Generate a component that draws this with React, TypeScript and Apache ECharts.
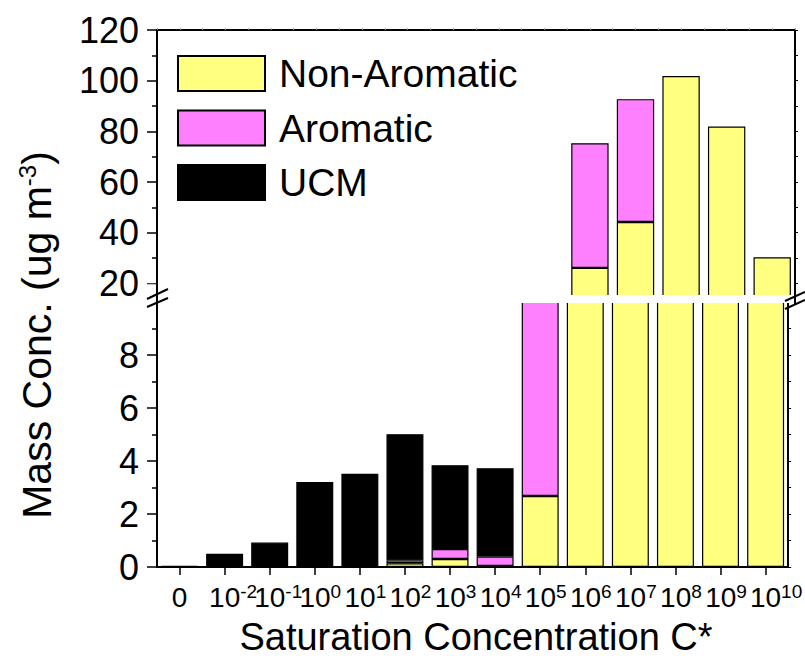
import React, { useEffect, useRef } from 'react';
import * as echarts from 'echarts';

const categories = ['0', '10^-2', '10^-1', '10^0', '10^1', '10^2', '10^3', '10^4', '10^5', '10^6', '10^7', '10^8', '10^9', '10^10'];
const nonAromatic = [0, 0, 0, 0, 0, 0.14, 0.3, 0.04, 2.68, 26.1, 44.2, 101.8, 81.9, 30.3];
const aromatic = [0.04, 0, 0, 0, 0, 0.11, 0.38, 0.35, 9.3, 49.2, 48.5, 0, 0, 0];
const ucm = [0, 0.5, 0.92, 3.21, 3.52, 4.76, 3.16, 3.34, 0, 0, 0, 0, 0, 0];

const seriesDefs = [
  { name: 'Non-Aromatic', data: nonAromatic, color: '#FFFF80' },
  { name: 'Aromatic', data: aromatic, color: '#FF80FF' },
  { name: 'UCM', data: ucm, color: '#000000' },
];

const FONT = '"Liberation Sans", Arial, sans-serif';

export default function App() {
  const ref = useRef<HTMLDivElement>(null);
  useEffect(() => {
    if (!ref.current) return;
    const chart = echarts.init(ref.current, undefined, { renderer: 'svg' });
    const toData = (arr: number[]) => arr.map((v) => (v === 0 ? '-' : v));
    const series: any[] = [];
    [0, 1].forEach((g) => {
      seriesDefs.forEach((d) => {
        series.push({
          type: 'bar',
          name: d.name,
          xAxisIndex: g,
          yAxisIndex: g,
          stack: 'stack' + g,
          data: toData(d.data),
          barCategoryGap: '18%',
          clip: true,
          itemStyle: { color: d.color, borderColor: '#000', borderWidth: 1.2 },
        });
      });
    });
    const axisLine = { show: true, lineStyle: { color: '#000', width: 2 } };
    const padStyle = (w: number) => ({ width: w, fontSize: 19, lineHeight: 14 });
    const option: any = {
      animation: false,
      textStyle: { fontFamily: FONT, color: '#000' },
      grid: [
        { left: 157, right: 10, top: 302, bottom: 91 },
        { left: 157, right: 10, top: 30, bottom: 362 },
      ],
      legend: {
        orient: 'vertical',
        left: 172,
        top: 49,
        itemWidth: 87,
        itemHeight: 35,
        itemGap: 15.5,
        icon: 'rect',
        selectedMode: false,
        textStyle: { fontSize: 39, lineHeight: 35, color: '#000', fontFamily: FONT, padding: [0, 0, 0, 9] },
        data: ['Non-Aromatic', 'Aromatic', 'UCM'],
      },
      xAxis: [
        {
          type: 'category',
          gridIndex: 0,
          position: 'bottom',
          data: categories,
          axisLine,
          axisTick: { show: true, alignWithLabel: true, length: 8, lineStyle: { color: '#000', width: 1.5 } },
          axisLabel: {
            interval: 0,
            margin: 15,
            color: '#000',
            fontFamily: FONT,
            formatter: (v: string) => {
              const i = v.indexOf('^');
              if (i < 0) return `{b|${v}}`;
              const e = v.slice(i + 1);
              const pad = e.length === 1 ? 'pa' : e.startsWith('-') ? 'pb' : 'pc';
              return `{${pad}| }{b|10}{s|${e}}`;
            },
            rich: {
              b: { fontSize: 28, lineHeight: 30, fontFamily: FONT, color: '#000' },
              s: { fontSize: 19, lineHeight: 14, verticalAlign: 'top', fontFamily: FONT, color: '#000' },
              pa: padStyle(11),
              pb: padStyle(17),
              pc: padStyle(21),
            },
          },
          splitLine: { show: false },
        },
        {
          type: 'category',
          gridIndex: 1,
          position: 'top',
          data: categories,
          axisLine,
          axisTick: { show: true, inside: false, length: 2, interval: 0, lineStyle: { color: '#999', width: 1 } },
          axisLabel: { show: false },
          splitLine: { show: false },
        },
        {
          type: 'category',
          gridIndex: 1,
          position: 'top',
          data: categories,
          axisLine: { show: false },
          axisTick: { show: true, alignWithLabel: true, length: 2, interval: 0, lineStyle: { color: '#999', width: 1 } },
          axisLabel: { show: false },
          splitLine: { show: false },
        },
      ],
      yAxis: [
        {
          type: 'value',
          gridIndex: 0,
          position: 'left',
          min: 0,
          max: 10,
          interval: 2,
          axisLine,
          axisTick: { show: true, length: 10, lineStyle: { color: '#000', width: 1.5 } },
          minorTick: { show: true, splitNumber: 2, length: 5, lineStyle: { color: '#000', width: 1.5 } },
          axisLabel: {
            fontSize: 36,
            margin: 18,
            color: '#000',
            fontFamily: FONT,
            formatter: (v: number) => (v >= 10 ? '' : String(v)),
          },
          splitLine: { show: false },
        },
        {
          type: 'value',
          gridIndex: 1,
          position: 'left',
          min: 15,
          max: 120,
          splitNumber: 5,
          minInterval: 20,
          maxInterval: 20,
          axisLine,
          axisTick: { show: true, length: 10, lineStyle: { color: '#000', width: 1.5 } },
          minorTick: { show: true, splitNumber: 2, length: 5, lineStyle: { color: '#000', width: 1.5 } },
          axisLabel: {
            fontSize: 36,
            margin: 18,
            color: '#000',
            fontFamily: FONT,
            formatter: (v: number) => (v < 20 ? '' : String(v)),
          },
          splitLine: { show: false },
        },
        {
          type: 'value',
          gridIndex: 0,
          position: 'right',
          min: 0,
          max: 10,
          interval: 2,
          axisLine,
          axisTick: { show: true, length: 3, lineStyle: { color: '#000', width: 1 } },
          minorTick: { show: true, splitNumber: 2, length: 3, lineStyle: { color: '#000', width: 1 } },
          axisLabel: { show: false },
          splitLine: { show: false },
        },
        {
          type: 'value',
          gridIndex: 1,
          position: 'right',
          min: 15,
          max: 120,
          splitNumber: 5,
          minInterval: 20,
          maxInterval: 20,
          axisLine,
          axisTick: { show: true, length: 3, lineStyle: { color: '#000', width: 1 } },
          minorTick: { show: true, splitNumber: 2, length: 3, lineStyle: { color: '#000', width: 1 } },
          axisLabel: { show: false },
          splitLine: { show: false },
        },
      ],
      series,
      graphic: [
        // gap between the two parts of the broken axis
        { type: 'rect', z: 100, shape: { x: 158, y: 295, width: 636, height: 8 }, style: { fill: '#fff' } },
        { type: 'rect', z: 100, shape: { x: 138, y: 284.3, width: 17.9, height: 21.7 }, style: { fill: '#fff' } },
        { type: 'rect', z: 100, shape: { x: 796.1, y: 284.3, width: 9, height: 21.7 }, style: { fill: '#fff' } },
        { type: 'line', z: 110, shape: { x1: 157, y1: 293, x2: 157, y2: 305 }, style: { stroke: '#000', lineWidth: 2 } },
        { type: 'line', z: 110, shape: { x1: 795, y1: 293, x2: 795, y2: 305 }, style: { stroke: '#000', lineWidth: 2 } },
        { type: 'line', z: 120, shape: { x1: 147, y1: 299, x2: 168, y2: 289 }, style: { stroke: '#000', lineWidth: 2 } },
        { type: 'line', z: 120, shape: { x1: 147, y1: 307, x2: 168, y2: 298 }, style: { stroke: '#000', lineWidth: 2 } },
        { type: 'line', z: 120, shape: { x1: 785, y1: 301, x2: 805, y2: 292 }, style: { stroke: '#000', lineWidth: 2 } },
        { type: 'line', z: 120, shape: { x1: 785, y1: 309, x2: 805, y2: 300 }, style: { stroke: '#000', lineWidth: 2 } },
        {
          type: 'text',
          z: 120,
          x: 476,
          y: 637,
          style: {
            text: 'Saturation Concentration C*',
            fontSize: 38,
            lineHeight: 34,
            fontFamily: FONT,
            fill: '#000',
            align: 'center',
            verticalAlign: 'middle',
          },
        },
        {
          type: 'text',
          z: 120,
          x: 37,
          y: 335,
          rotation: Math.PI / 2,
          style: {
            text: '{a|Mass Conc. (ug m}{s|-3}{a|)}',
            fontFamily: FONT,
            fill: '#000',
            align: 'center',
            verticalAlign: 'middle',
            rich: {
              a: { fontSize: 41, lineHeight: 44, fontFamily: FONT, fill: '#000' },
              s: { fontSize: 24, lineHeight: 18, verticalAlign: 'top', fontFamily: FONT, fill: '#000' },
            },
          },
        },
      ],
    };
    chart.setOption(option);
    return () => chart.dispose();
  }, []);
  return <div ref={ref} style={{ position: 'absolute', left: 0, top: 0, width: 805, height: 658 }} />;
}
